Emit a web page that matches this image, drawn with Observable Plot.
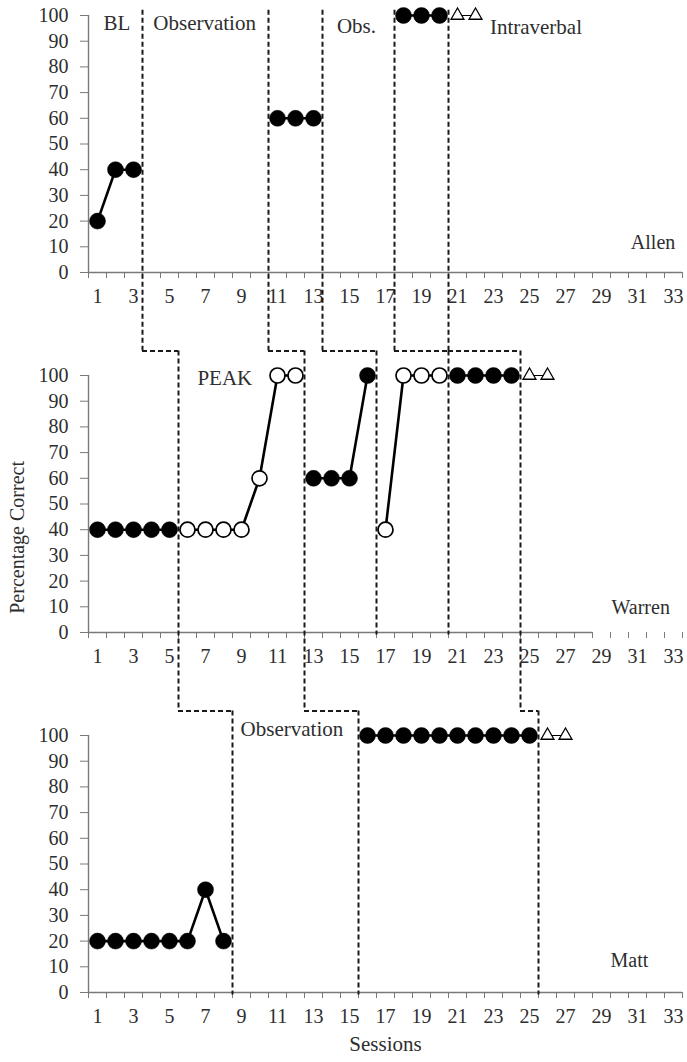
<!DOCTYPE html>
<html>
<head>
<meta charset="utf-8">
<script src="https://cdn.jsdelivr.net/npm/d3@7"></script>
<script src="https://cdn.jsdelivr.net/npm/@observablehq/plot@0.6"></script>
<style>
  html, body { margin: 0; padding: 0; background: #fff; }
  #chart { width: 687px; height: 1062px; }
</style>
</head>
<body>
<div id="chart"></div>
<script>
// ---------------- DATA ----------------
const participants = ["Allen", "Warren", "Matt"];
const sessionTickLabels = [1, 3, 5, 7, 9, 11, 13, 15, 17, 19, 21, 23, 25, 27, 29, 31, 33];
const sessionBoundaries = [0.5, 1.5, 2.5, 3.5, 4.5, 5.5, 6.5, 7.5, 8.5, 9.5, 10.5, 11.5, 12.5, 13.5, 14.5, 15.5, 16.5,
  17.5, 18.5, 19.5, 20.5, 21.5, 22.5, 23.5, 24.5, 25.5, 26.5, 27.5, 28.5, 29.5, 30.5, 31.5, 32.5, 33.5];
const percentTicks = [0, 10, 20, 30, 40, 50, 60, 70, 80, 90, 100];

// Allen
const allenSessions = [1, 2, 3, 11, 12, 13, 18, 19, 20, 21, 22];
const allenValues   = [20, 40, 40, 60, 60, 60, 100, 100, 100, 100, 100];
const allenMarkers  = ["filled", "filled", "filled", "filled", "filled", "filled", "filled", "filled", "filled", "triangle", "triangle"];
const allenRuns     = [1, 1, 1, 2, 2, 2, 3, 3, 3, 4, 4];

// Warren
const warrenSessions = [1, 2, 3, 4, 5, 6, 7, 8, 9, 10, 11, 12, 13, 14, 15, 16, 17, 18, 19, 20, 21, 22, 23, 24, 25, 26];
const warrenValues   = [40, 40, 40, 40, 40, 40, 40, 40, 40, 60, 100, 100, 60, 60, 60, 100, 40, 100, 100, 100, 100, 100, 100, 100, 100, 100];
const warrenMarkers  = ["filled", "filled", "filled", "filled", "filled",
  "open", "open", "open", "open", "open", "open", "open",
  "filled", "filled", "filled", "filled",
  "open", "open", "open", "open",
  "filled", "filled", "filled", "filled",
  "triangle", "triangle"];
const warrenRuns     = [1, 1, 1, 1, 1, 2, 2, 2, 2, 2, 2, 2, 3, 3, 3, 3, 4, 4, 4, 4, 5, 5, 5, 5, 6, 6];

// Matt
const mattSessions = [1, 2, 3, 4, 5, 6, 7, 8, 16, 17, 18, 19, 20, 21, 22, 23, 24, 25, 26, 27];
const mattValues   = [20, 20, 20, 20, 20, 20, 40, 20, 100, 100, 100, 100, 100, 100, 100, 100, 100, 100, 100, 100];
const mattMarkers  = ["filled", "filled", "filled", "filled", "filled", "filled", "filled", "filled",
  "filled", "filled", "filled", "filled", "filled", "filled", "filled", "filled", "filled", "filled",
  "triangle", "triangle"];
const mattRuns     = [1, 1, 1, 1, 1, 1, 1, 1, 2, 2, 2, 2, 2, 2, 2, 2, 2, 2, 3, 3];

// Phase changes (between sessions)
const allenPhaseChanges  = [3.5, 10.5, 13.5, 17.5, 20.5];
const warrenPhaseChanges = [5.5, 12.5, 16.5, 20.5, 24.5];
const mattPhaseChanges   = [8.5, 15.5, 25.5];
const allenToWarren = [[3.5, 5.5], [10.5, 12.5], [13.5, 16.5], [17.5, 20.5], [20.5, 24.5]];
const warrenToMatt  = [[5.5, 8.5], [12.5, 15.5], [24.5, 25.5]];

// Texts
const allenPhaseLabels  = ["BL", "Observation", "Obs.", "Intraverbal"];
const warrenPhaseLabels = ["PEAK"];
const mattPhaseLabels   = ["Observation"];
const yAxisTitle = "Percentage Correct";
const xAxisTitle = "Sessions";

// ---------------- LAYOUT ----------------
const W = 687, H = 1062;
const mTop = 15, mBottom = 70, mLeft = 88, mRight = 5;
const panelPx = 257, stepPx = 360;
const panelGap = 100 * stepPx / panelPx;     // one panel step in y units
const linkLevel = 109.5;                     // connector level in the lower panel's units
const font = "'Liberation Serif', 'Times New Roman', serif";

const series = [
  ["Allen", allenSessions, allenValues, allenMarkers, allenRuns],
  ["Warren", warrenSessions, warrenValues, warrenMarkers, warrenRuns],
  ["Matt", mattSessions, mattValues, mattMarkers, mattRuns]
];
const points = series.flatMap(([who, s, v, m, r]) =>
  s.map((d, i) => ({who, session: d, value: v[i], marker: m[i], run: who + r[i]})));

const phaseSets = {Allen: allenPhaseChanges, Warren: warrenPhaseChanges, Matt: mattPhaseChanges};
const continuesDown = {Allen: allenToWarren.map(d => d[0]), Warren: warrenToMatt.map(d => d[0]), Matt: []};
const phaseLines = participants.flatMap((who, pi) => phaseSets[who].map(x => ({
  who, x,
  y1: pi === 0 ? 102 : linkLevel,
  y2: continuesDown[who].includes(x) ? linkLevel - panelGap : -1
})));
const connectors = [
  ...allenToWarren.map(([a, b]) => ({who: "Warren", x1: a, x2: b})),
  ...warrenToMatt.map(([a, b]) => ({who: "Matt", x1: a, x2: b}))
];

const axisLines = [
  {who: "Allen", x2: 33.5},
  {who: "Warren", x2: 28.5},
  {who: "Matt", x2: 33.5}
];

// label placement (layout)
const labelPos = [
  {who: "Allen", text: allenPhaseLabels[0], x: 1.33, y: 96.9},
  {who: "Allen", text: allenPhaseLabels[1], x: 4.1, y: 96.9},
  {who: "Allen", text: allenPhaseLabels[2], x: 14.3, y: 95.7},
  {who: "Allen", text: allenPhaseLabels[3], x: 22.8, y: 95.3},
  {who: "Warren", text: warrenPhaseLabels[0], x: 6.55, y: 98.8},
  {who: "Matt", text: mattPhaseLabels[0], x: 8.95, y: 102.5}
];
const namePos = [
  {who: "Allen", x: 33.1, y: 11.7},
  {who: "Warren", x: 32.8, y: 9.7},
  {who: "Matt", x: 31.6, y: 12.5}
];

const dash = {stroke: "#1a1a1a", strokeWidth: 2, strokeDasharray: "5,3"};

const chart = Plot.plot({
  width: W, height: H,
  marginTop: mTop, marginBottom: mBottom, marginLeft: mLeft, marginRight: mRight,
  style: {fontFamily: font, fontSize: "20px", color: "#333", background: "#fff", overflow: "visible"},
  x: {domain: [0.5, 33.5]},
  y: {domain: [0, 100]},
  fy: {domain: participants, axis: null, paddingInner: 1 - panelPx / stepPx, paddingOuter: 0, round: false},
  marks: [
    // axes
    Plot.ruleX([0.5], {x: d => d, y1: 0, y2: 100, stroke: "#7a7a7a", strokeWidth: 1.4}),
    Plot.ruleY(axisLines, {fy: "who", y: 0, x1: 0.5, x2: "x2", stroke: "#7a7a7a", strokeWidth: 1.4}),
    Plot.axisY(percentTicks, {tickSize: 8, tickPadding: 12, stroke: "#7a7a7a", fill: "#2e2e2e", label: null, fontSize: 20}),
    Plot.axisX(sessionBoundaries, {tickSize: 6, tickFormat: () => "", stroke: "#7a7a7a", label: null, facetAnchor: null}),
    Plot.axisX(sessionTickLabels, {tickSize: 0, tickPadding: 16, fill: "#2e2e2e", label: null, facetAnchor: null, fontSize: 20}),
    // phase change lines
    Plot.ruleX(phaseLines, {fy: "who", x: "x", y1: "y1", y2: "y2", ...dash}),
    Plot.ruleY(connectors, {fy: "who", x1: "x1", x2: "x2", y: linkLevel, ...dash}),
    // data paths
    Plot.line(points.filter(d => d.marker !== "triangle"), {fy: "who", x: "session", y: "value", z: "run", stroke: "black", strokeWidth: 2.6}),
    Plot.line(points.filter(d => d.marker === "triangle"), {fy: "who", x: "session", y: "value", z: "run", stroke: "black", strokeWidth: 1}),
    Plot.dot(points.filter(d => d.marker === "filled"), {fy: "who", x: "session", y: "value", r: 8, fill: "black", stroke: "black", strokeWidth: 0.5}),
    Plot.dot(points.filter(d => d.marker === "open"), {fy: "who", x: "session", y: "value", r: 7.5, fill: "white", stroke: "black", strokeWidth: 1.7}),
    Plot.dot(points.filter(d => d.marker === "triangle"), {fy: "who", x: "session", y: "value", symbol: "triangle", r: 4.8, fill: "white", stroke: "black", strokeWidth: 1.3}),
    // texts
    Plot.text(labelPos, {fy: "who", x: "x", y: "y", text: "text", textAnchor: "start", fontSize: 21, fill: "#2e2e2e"}),
    Plot.text(namePos, {fy: "who", x: "x", y: "y", text: "who", textAnchor: "end", fontSize: 20, fill: "#2e2e2e"}),
    Plot.text([yAxisTitle], {fy: d => "Warren", text: d => d, y: 37, frameAnchor: "left", textAnchor: "middle", lineAnchor: "middle", dx: -71, rotate: -90, fontSize: 20, fill: "#2e2e2e"}),
    Plot.text([xAxisTitle], {fy: d => "Matt", text: d => d, x: 17, frameAnchor: "bottom", textAnchor: "middle", lineAnchor: "middle", dy: 52, fontSize: 21, fill: "#2e2e2e"})
  ]
});
document.getElementById("chart").appendChild(chart);
</script>
</body>
</html>
